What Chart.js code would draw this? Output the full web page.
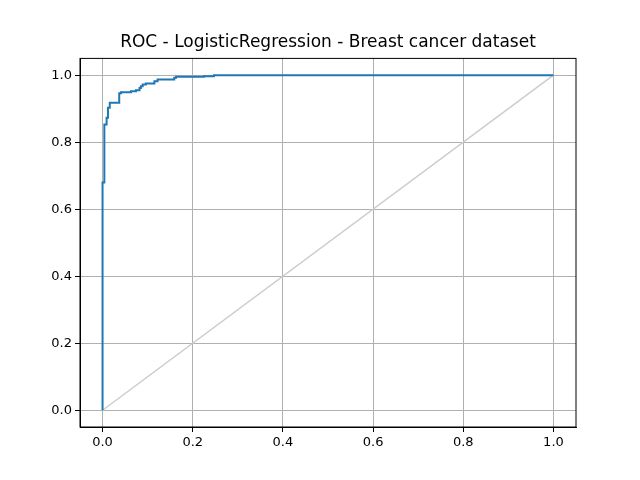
<!DOCTYPE html>
<html><head><script src="https://cdn.jsdelivr.net/npm/chart.js@4"></script>
<style>body{margin:0;background:#fff}canvas{display:block}</style></head>
<body><div style="width:640px;height:480px"><canvas id="c" width="640" height="480"></canvas></div>
<script>
const fpr = [0,0,0.004,0.009,0.012,0.016,0.037,0.041,0.063,0.074,0.082,0.085,0.089,0.096,0.115,0.122,0.159,0.163,0.225,0.247,1];
const tpr = [0,0.68,0.853,0.873,0.903,0.918,0.946,0.949,0.952,0.955,0.962,0.967,0.972,0.975,0.982,0.987,0.992,0.995,0.997,1.0,1];
const diagX = [0,1], diagY = [0,1];
const tickVals = [0,0.2,0.4,0.6,0.8,1.0];
const font = {family:'DejaVu Sans', size:13};
const ticksCfg = v => ({color:'#000', font, callback:x=>x.toFixed(1)});
new Chart(document.getElementById('c'), {
  type:'scatter',
  data:{datasets:[
    {data:fpr.map((x,i)=>({x,y:tpr[i]})), showLine:true, stepped:'before', borderColor:'#1f77b4', borderWidth:2, pointRadius:0, order:1},
    {data:diagX.map((x,i)=>({x,y:diagY[i]})), showLine:true, borderColor:'#cccccc', borderWidth:1.5, pointRadius:0, order:2}
  ]},
  options:{responsive:false, animation:false, devicePixelRatio:1,
    layout:{padding:{right:64,left:0,bottom:0}},
    plugins:{legend:{display:false}, tooltip:{enabled:false},
      title:{display:true, fullSize:false, text:'ROC - LogisticRegression - Breast cancer dataset', color:'#000', font:{family:'DejaVu Sans',size:17,weight:'normal'}, padding:{top:32,bottom:6}}},
    scales:{
      x:{type:'linear', min:-0.05, max:1.05, afterBuildTicks:a=>{a.ticks=tickVals.map(v=>({value:v}))}, afterFit:a=>{a.height=53},
        ticks:ticksCfg(), grid:{color:'#b0b0b0', tickColor:'#000', tickLength:5}, border:{color:'#000'}},
      y:{type:'linear', min:-0.05, max:1.05, afterBuildTicks:a=>{a.ticks=tickVals.map(v=>({value:v}))}, afterFit:a=>{a.width=80},
        ticks:ticksCfg(), grid:{color:'#b0b0b0', tickColor:'#000', tickLength:5}, border:{color:'#000'}}
    }
  },
  plugins:[{id:'box',afterDraw(c){const a=c.chartArea,x=c.ctx;x.save();x.strokeStyle='#000';x.lineWidth=1;x.strokeRect(a.left,a.top,a.right-a.left,a.bottom-a.top);x.restore();}}]
});
</script></body></html>
